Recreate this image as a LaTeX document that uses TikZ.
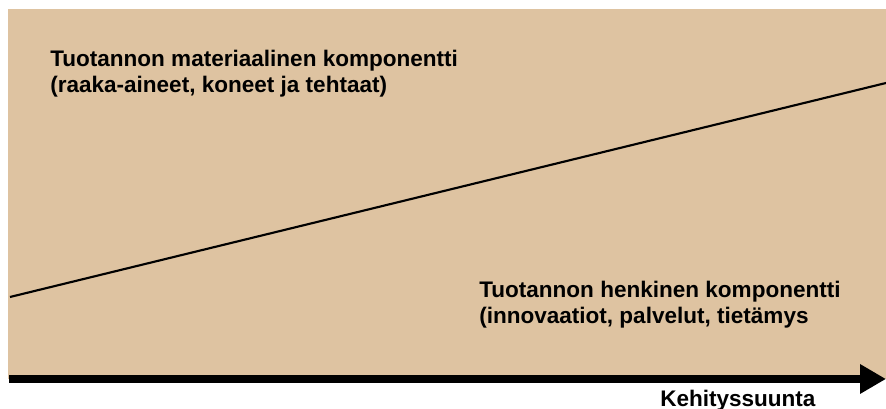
\documentclass[tikz,border=0pt]{standalone}
\usepackage{fontspec}
\setmainfont{Liberation Sans}
\usepackage{tikz}
\usetikzlibrary{arrows.meta}
\definecolor{sand}{RGB}{222,195,161}

\begin{document}
\begin{tikzpicture}[x=0.75pt, y=0.75pt,
    label text/.style={inner sep=0pt, align=left, font=\fontsize{16.9}{19.5}\selectfont\bfseries}]
    \useasboundingbox (0,0) rectangle (886,409);
    % Background field
    \fill[sand] (8,30) rectangle (886,400);
    % Dividing line between the two components
    \coordinate (low) at (10,112);
    \coordinate (high) at (886,326);
    \draw[line width=1.6pt] (low) -- (high);
    % Labels (base anchor sits on the last line)
    \node[label text, anchor=base west] (material) at (50,316)
        {Tuotannon materiaalinen komponentti\\(raaka-aineet, koneet ja tehtaat)};
    \node[label text, anchor=base west] (mental) at (479,85)
        {Tuotannon henkinen komponentti\\(innovaatiot, palvelut, tietämys};
    % Direction arrow
    \coordinate (start) at (9,30);
    \coordinate (end) at (886,30);
    \draw[line width=6pt, -{Triangle[length=19.5pt, width=21pt]}] (start) -- (end);
    \node[label text, anchor=base west] (direction) at (660,2) {Kehityssuunta};
\end{tikzpicture}
\end{document}
